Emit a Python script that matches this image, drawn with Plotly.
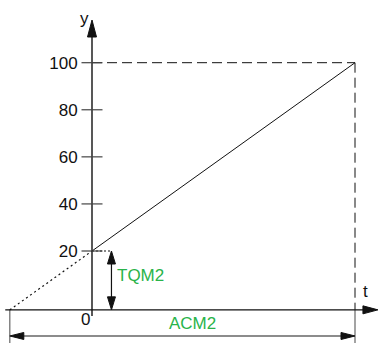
import plotly.graph_objects as go

# schematic: torque ramp from TQM2 (20 %) to 100 % over ACM2
t_ramp = [0, 100]
y_ramp = [20, 100]
t_ext = [-31.25, 0]          # dotted back-extension of the ramp to the t axis
y_ext = [-5, 20]
y_ticks = [20, 40, 60, 80, 100]
y_tick_text = ["20", "40", "60", "80", "100"]
t_tqm = 7.4                  # where the TQM2 dimension arrow sits
y_base = -5                  # level of the drawn t axis
y_acm = -16.1                # level of the ACM2 dimension arrow

W, H = 379, 343
X0_PX = 92                   # pixel column of t = 0
PX_T = 2.63                  # pixels per t unit
PX_Y = 2.3538                # pixels per y unit
Y20_PX = 251                 # pixel row of y = 20

T_RANGE = [-X0_PX / PX_T, (W - X0_PX) / PX_T]
Y_RANGE = [20 - (H - Y20_PX) / PX_Y, 20 + Y20_PX / PX_Y]

BLACK = "#111111"
GREY = "#666666"
GREEN = "#29b34a"
FONT = "Liberation Sans, Arial, sans-serif"


def seg(fig, t, y, color=BLACK, width=1, dash="solid"):
    fig.add_trace(go.Scatter(x=t, y=y, mode="lines", hoverinfo="skip",
                             line={"color": color, "width": width, "dash": dash}))


def head(fig, t, y, direction, length, half, color=BLACK):
    """Filled triangle arrowhead with its tip at (t, y); sizes in pixels."""
    lt, ly = length / PX_T, length / PX_Y
    ht, hy = half / PX_T, half / PX_Y
    if direction == "up":
        xs, ys = [t, t - ht, t + ht], [y, y - ly, y - ly]
    elif direction == "down":
        xs, ys = [t, t - ht, t + ht], [y, y + ly, y + ly]
    elif direction == "left":
        xs, ys = [t, t + lt, t + lt], [y, y - hy, y + hy]
    else:
        xs, ys = [t, t - lt, t - lt], [y, y - hy, y + hy]
    fig.add_trace(go.Scatter(x=xs + [xs[0]], y=ys + [ys[0]], mode="lines", fill="toself",
                             fillcolor=color, line={"color": color, "width": 1},
                             hoverinfo="skip"))


fig = go.Figure()

# guides to the 100 % corner
seg(fig, [0, t_ramp[1]], [y_ramp[1], y_ramp[1]], dash="10px,5px")
seg(fig, [t_ramp[1], t_ramp[1]], [y_ramp[1], y_base], dash="10px,5px")
seg(fig, [t_ramp[1], t_ramp[1]], [y_base, Y_RANGE[0]], color=GREY, width=1.2)
seg(fig, [t_ext[0], t_ext[0]], [y_base, Y_RANGE[0]], color=GREY, width=1.2)

# ramp and its dotted extension
seg(fig, t_ramp, y_ramp, width=1)
seg(fig, t_ext, y_ext, width=1.2, dash="2px,3px")
seg(fig, [0, t_tqm], [y_ramp[0], y_ramp[0]], width=1.2, dash="2px,2px")

# axes
t_tip = T_RANGE[1] - 0.4
y_tip = 20 + (Y20_PX - 20) / PX_Y
seg(fig, [T_RANGE[0] + 2, t_tip - 5], [y_base, y_base], width=1.4)
head(fig, t_tip, y_base, "right", 15, 4)
seg(fig, [0, 0], [y_base - 2.6, y_tip - 5], width=1.4)
head(fig, 0, y_tip, "up", 17, 4.5)

# tick marks crossing the y axis
fig.add_trace(go.Scatter(x=[0] * len(y_ticks), y=y_ticks, mode="markers", hoverinfo="skip",
                         marker={"symbol": "line-ew", "size": 15,
                                 "line": {"color": "#444444", "width": 1.2}}))

# TQM2 dimension
seg(fig, [t_tqm, t_tqm], [y_ramp[0] - 3, y_base + 3], width=1.2)
head(fig, t_tqm, y_ramp[0], "up", 13, 4)
head(fig, t_tqm, y_base, "down", 13, 4)

# ACM2 dimension
seg(fig, [t_ext[0] + 3, t_ramp[1] - 3], [y_acm, y_acm], color=GREY, width=1.4)
head(fig, t_ext[0], y_acm, "left", 14, 3.5, color=BLACK)
head(fig, t_ramp[1], y_acm, "right", 14, 3.5, color=BLACK)

txt = {"family": FONT, "size": 17, "color": BLACK}
grn = {"family": FONT, "size": 17, "color": GREEN}
fig.add_annotation(x=-3.0, y=118.6, text="y", showarrow=False, font=txt)
fig.add_annotation(x=(365 - X0_PX) / PX_T, y=20 - (291 - Y20_PX) / PX_Y, text="t",
                   showarrow=False, font=txt)
fig.add_annotation(x=-2.6, y=20 - (319 - Y20_PX) / PX_Y, text="0", showarrow=False, font=txt)
fig.add_annotation(x=t_tqm + 1.5, y=20 - (275 - Y20_PX) / PX_Y, text="TQM2", xanchor="left",
                   showarrow=False, font=grn)
fig.add_annotation(x=(192 - X0_PX) / PX_T, y=20 - (323 - Y20_PX) / PX_Y, text="ACM2",
                   showarrow=False, font=grn)

fig.update_layout(
    width=W, height=H,
    margin={"l": 0, "r": 0, "t": 0, "b": 0},
    paper_bgcolor="white", plot_bgcolor="white",
    showlegend=False,
    font={"family": FONT, "size": 17, "color": BLACK},
    xaxis={"range": T_RANGE, "visible": False, "fixedrange": True},
    yaxis={"range": Y_RANGE, "anchor": "free", "position": X0_PX / W,
           "showgrid": False, "zeroline": False, "showline": False,
           "tickvals": y_ticks, "ticktext": y_tick_text,
           "ticks": "outside", "ticklen": 11, "tickcolor": "rgba(0,0,0,0)",
           "tickfont": {"family": FONT, "size": 17, "color": BLACK},
           "fixedrange": True},
)

# the page body has a default 8px margin; drop it so the chart sits at the window corner
fig.write_html("out.html", config={"displayModeBar": False},
               post_script="document.body.style.margin='0';")
